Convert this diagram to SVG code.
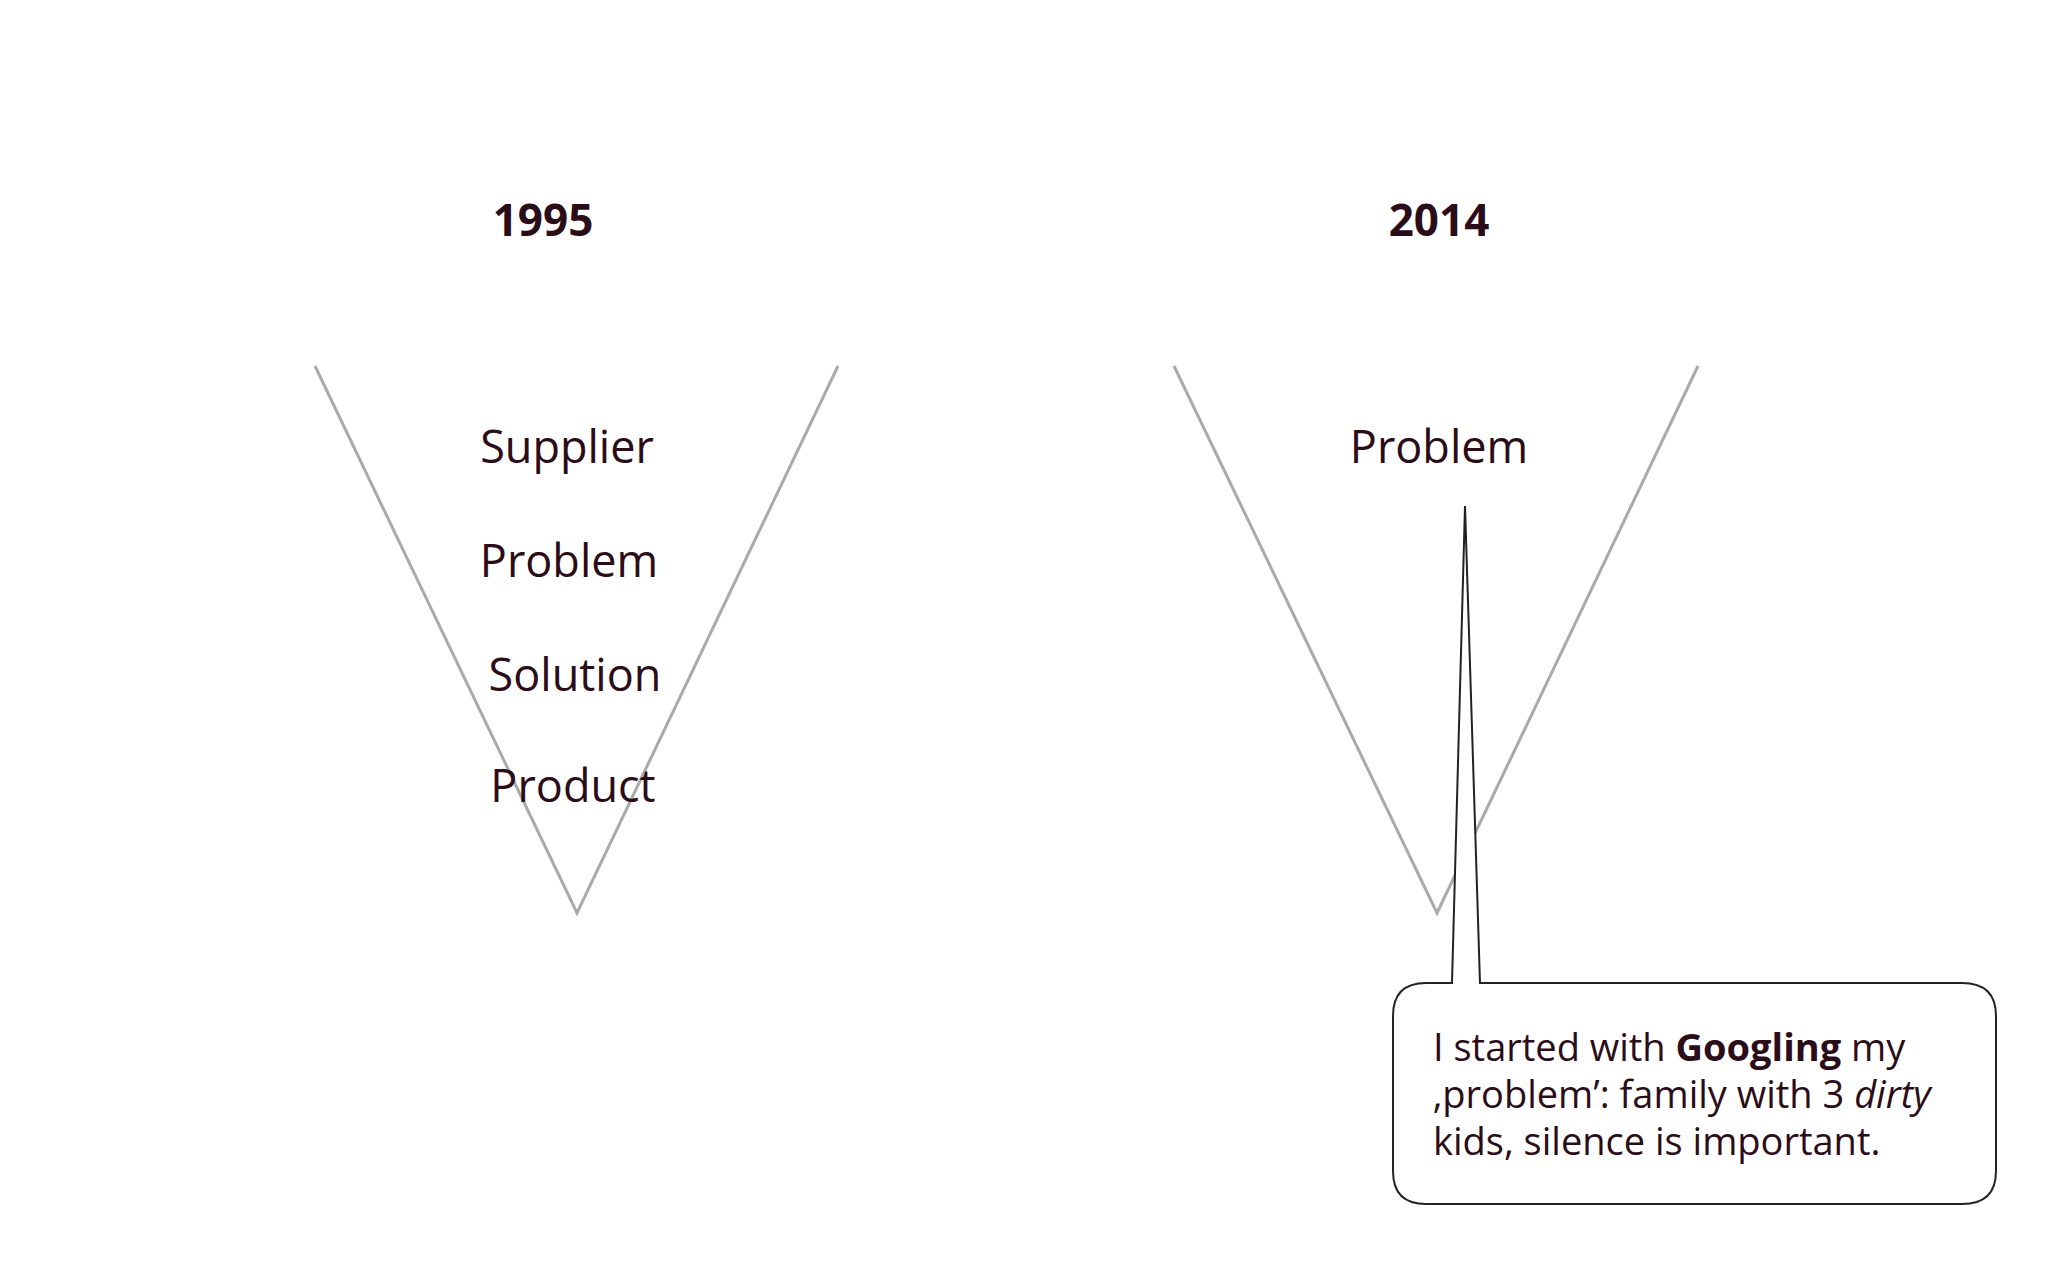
<svg xmlns="http://www.w3.org/2000/svg" width="2048" height="1280" viewBox="0 0 2048 1280">
<style>
text{font-family:"Open Sans","Noto Sans",sans-serif;fill:#2a0d18}
.yr{font-size:44px;font-weight:bold;text-anchor:middle}
.lb{font-size:45px;text-anchor:middle}
.v{fill:none;stroke:#aaa;stroke-width:3}
.c{font-size:38px}
</style>
<rect width="2048" height="1280" fill="#fff"/>
<g id="y1995"><text class="yr" x="543" y="236">1995</text></g>
<g id="y2014"><text class="yr" x="1439" y="236">2014</text></g>
<g id="funnel1995">
<polyline class="v" points="315,366 577,913 838,366"/>
<text class="lb" x="567" y="463">Supplier</text>
<text class="lb" x="569" y="577">Problem</text>
<text class="lb" x="575" y="691">Solution</text>
<text class="lb" x="573" y="802">Product</text>
</g>
<g id="funnel2014">
<polyline class="v" points="1174,366 1437,913 1698,366"/>
<text class="lb" x="1439" y="463">Problem</text>
</g>
<g id="callout">
<path d="M1452,983 L1465,506 L1480,983 L1962,983 Q1996,983 1996,1016 L1996,1171 Q1996,1204 1962,1204 L1426,1204 Q1393,1204 1393,1171 L1393,1016 Q1393,983 1426,983 Z" fill="#fff" stroke="#222" stroke-width="2"/>
<text class="c" x="1433" y="1061">I started with <tspan font-weight="bold">Googling</tspan> my</text>
<text class="c" x="1433" y="1108">‚problem’: family with 3 <tspan font-style="italic">dirty</tspan></text>
<text class="c" x="1433" y="1155">kids, silence is important.</text>
</g>
</svg>
